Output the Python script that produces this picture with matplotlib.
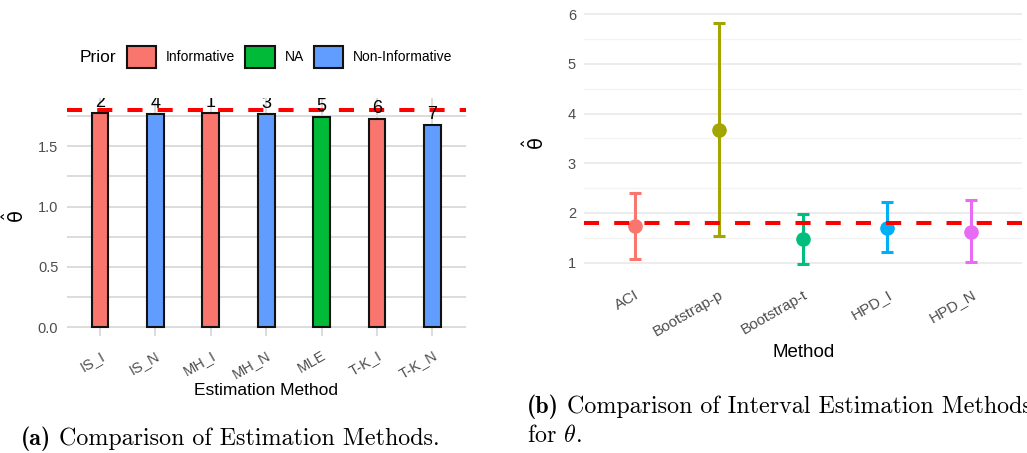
import matplotlib
matplotlib.use("Agg")
import matplotlib.pyplot as plt
import numpy as np

# ---------------- data ----------------
methods = ["IS_I", "IS_N", "MH_I", "MH_N", "MLE", "T-K_I", "T-K_N"]
estimates = [1.776, 1.767, 1.779, 1.767, 1.742, 1.729, 1.676]
priors = ["Informative", "Non-Informative", "Informative", "Non-Informative",
          "NA", "Informative", "Non-Informative"]
ranks = [2, 4, 1, 3, 5, 6, 7]
prior_levels = ["Informative", "NA", "Non-Informative"]
prior_colors = ["#F8766D", "#00BA38", "#619CFF"]
true_theta = 1.8

int_methods = ["ACI", "Bootstrap-p", "Bootstrap-t", "HPD_I", "HPD_N"]
int_est = [1.742, 3.67, 1.47, 1.705, 1.624]
int_lower = [1.068, 1.537, 0.967, 1.215, 1.008]
int_upper = [2.41, 5.82, 1.98, 2.215, 2.255]
int_colors = ["#F8766D", "#A3A500", "#00BF7D", "#00B0F6", "#E76BF3"]

left_yticks = [0.0, 0.5, 1.0, 1.5]
left_yminor = [0.25, 0.75, 1.25, 1.75]
right_yticks = [1, 2, 3, 4, 5, 6]
right_yminor = [1.5, 2.5, 3.5, 4.5, 5.5]

cap_a_tag, cap_a_text = "(a)", "Comparison of Estimation Methods."
cap_b_tag, cap_b_text = "(b)", "Comparison of Interval Estimation Methods"
cap_b_line2 = r"for $\theta$."

# ---------------- figure ----------------
plt.rcParams["font.family"] = ["Liberation Sans", "DejaVu Sans"]
plt.rcParams["mathtext.fontset"] = "dejavusans"

W, H = 1027, 453
fig = plt.figure(figsize=(W / 100, H / 100), dpi=100)


def ax_rect(l, t, r, b):
    return [l / W, 1 - b / H, (r - l) / W, (b - t) / H]


tick_col = "#4D4D4D"
ylab = r"$\hat{\mathrm{\theta}}$"

# ---------- left panel ----------
ax1 = fig.add_axes(ax_rect(66.7, 98, 465.7, 336))
x1 = np.arange(1, len(methods) + 1)
for yv in left_yticks + left_yminor:
    ax1.axhline(yv, color="#DCDCDC", lw=1.4, zorder=0)
for xv in x1:
    ax1.axvline(xv, color="#DCDCDC", lw=1.4, zorder=0)

for lev, col in zip(prior_levels, prior_colors):
    idx = [i for i, p in enumerate(priors) if p == lev]
    ax1.bar(x1[idx], [estimates[i] for i in idx], width=0.3, color=col,
            edgecolor="#111111", linewidth=1.5, label=lev, zorder=2)

for xi, yi, r in zip(x1, estimates, ranks):
    ax1.annotate(str(r), (xi, yi), xytext=(0, 1.5), textcoords="offset points",
                 ha="center", va="bottom", fontsize=13, color="black",
                 annotation_clip=False, clip_on=True, zorder=4)

ax1.axhline(true_theta, color="red", lw=2.9, linestyle=(0, (3.75, 3.75)), zorder=3)

ax1.set_xlim(0.4, 7.6)
ax1.set_ylim(-0.072, 1.90)
ax1.set_yticks(left_yticks)
ax1.set_yticklabels([f"{v:.1f}" for v in left_yticks], color=tick_col, fontsize=10.5)
ax1.set_xticks(x1)
ax1.set_xticklabels(methods, rotation=30, ha="right", rotation_mode="anchor",
                    color=tick_col, fontsize=10.5)
ax1.tick_params(axis="both", length=0)
ax1.tick_params(axis="x", pad=9)
ax1.tick_params(axis="y", pad=6)
for s in ax1.spines.values():
    s.set_visible(False)
ax1.set_xlabel("Estimation Method", fontsize=12.5, labelpad=1)
ax1.set_ylabel(ylab, fontsize=14, labelpad=7)

# legend
fig.text(80 / W, 1 - 58 / H, "Prior", fontsize=12.5, ha="left", va="center")
leg = fig.legend(*ax1.get_legend_handles_labels(), loc="center left",
                 bbox_to_anchor=(127 / W, 1 - 57 / H), ncol=3, frameon=False,
                 fontsize=10, handlelength=2.1, handleheight=2.0,
                 handletextpad=0.72, columnspacing=0.72, borderpad=0,
                 borderaxespad=0)

# ---------- right panel ----------
ax2 = fig.add_axes(ax_rect(584.3, 11, 1022, 276.4))
x2 = np.arange(1, len(int_methods) + 1)
for yv in right_yticks:
    ax2.axhline(yv, color="#EBEBEB", lw=1.3, zorder=0)
for yv in right_yminor:
    ax2.axhline(yv, color="#F3F3F3", lw=0.9, zorder=0)

for xi, e, lo, hi, c in zip(x2, int_est, int_lower, int_upper, int_colors):
    ax2.errorbar([xi], [e], yerr=[[e - lo], [hi - e]], fmt="o", color=c,
                 ecolor=c, elinewidth=2.2, capsize=4.2, capthick=2.2,
                 markersize=9.5, zorder=3)

ax2.axhline(true_theta, color="red", lw=2.9, linestyle=(0, (3.75, 3.75)), zorder=4)

ax2.set_xlim(0.4, 5.6)
ax2.set_ylim(0.724, 6.063)
ax2.set_yticks(right_yticks)
ax2.set_yticklabels([str(v) for v in right_yticks], color=tick_col, fontsize=10.5)
ax2.set_xticks(x2)
ax2.set_xticklabels(int_methods, rotation=30, ha="right", rotation_mode="anchor",
                    color=tick_col, fontsize=11)
ax2.tick_params(axis="both", length=0)
ax2.tick_params(axis="x", pad=8)
ax2.tick_params(axis="y", pad=6)
for s in ax2.spines.values():
    s.set_visible(False)
ax2.set_xlabel("Method", fontsize=13.5, labelpad=4)
ax2.set_ylabel(ylab, fontsize=14, labelpad=14)

# ---------- captions ----------
plt.rcParams["mathtext.fontset"] = "cm"
cap_fs = 17.3
renderer = fig.canvas.get_renderer()


def caption(x_px, base_px, tag, text):
    t = fig.text(x_px / W, 1 - base_px / H, tag, fontfamily="cmb10",
                 fontsize=cap_fs, ha="left", va="baseline")
    bb = t.get_window_extent(renderer=renderer)
    gap = cap_fs * 100 / 72 * 0.33
    fig.text((bb.x1 + gap) / W, 1 - base_px / H, text, fontfamily="cmr10",
             fontsize=cap_fs, ha="left", va="baseline")


caption(21, 445, cap_a_tag, cap_a_text)
caption(527, 413, cap_b_tag, cap_b_text)
fig.text(527 / W, 1 - 442 / H, cap_b_line2, fontfamily="cmr10", fontsize=cap_fs,
         ha="left", va="baseline")

fig.savefig("out.png", dpi=100)
